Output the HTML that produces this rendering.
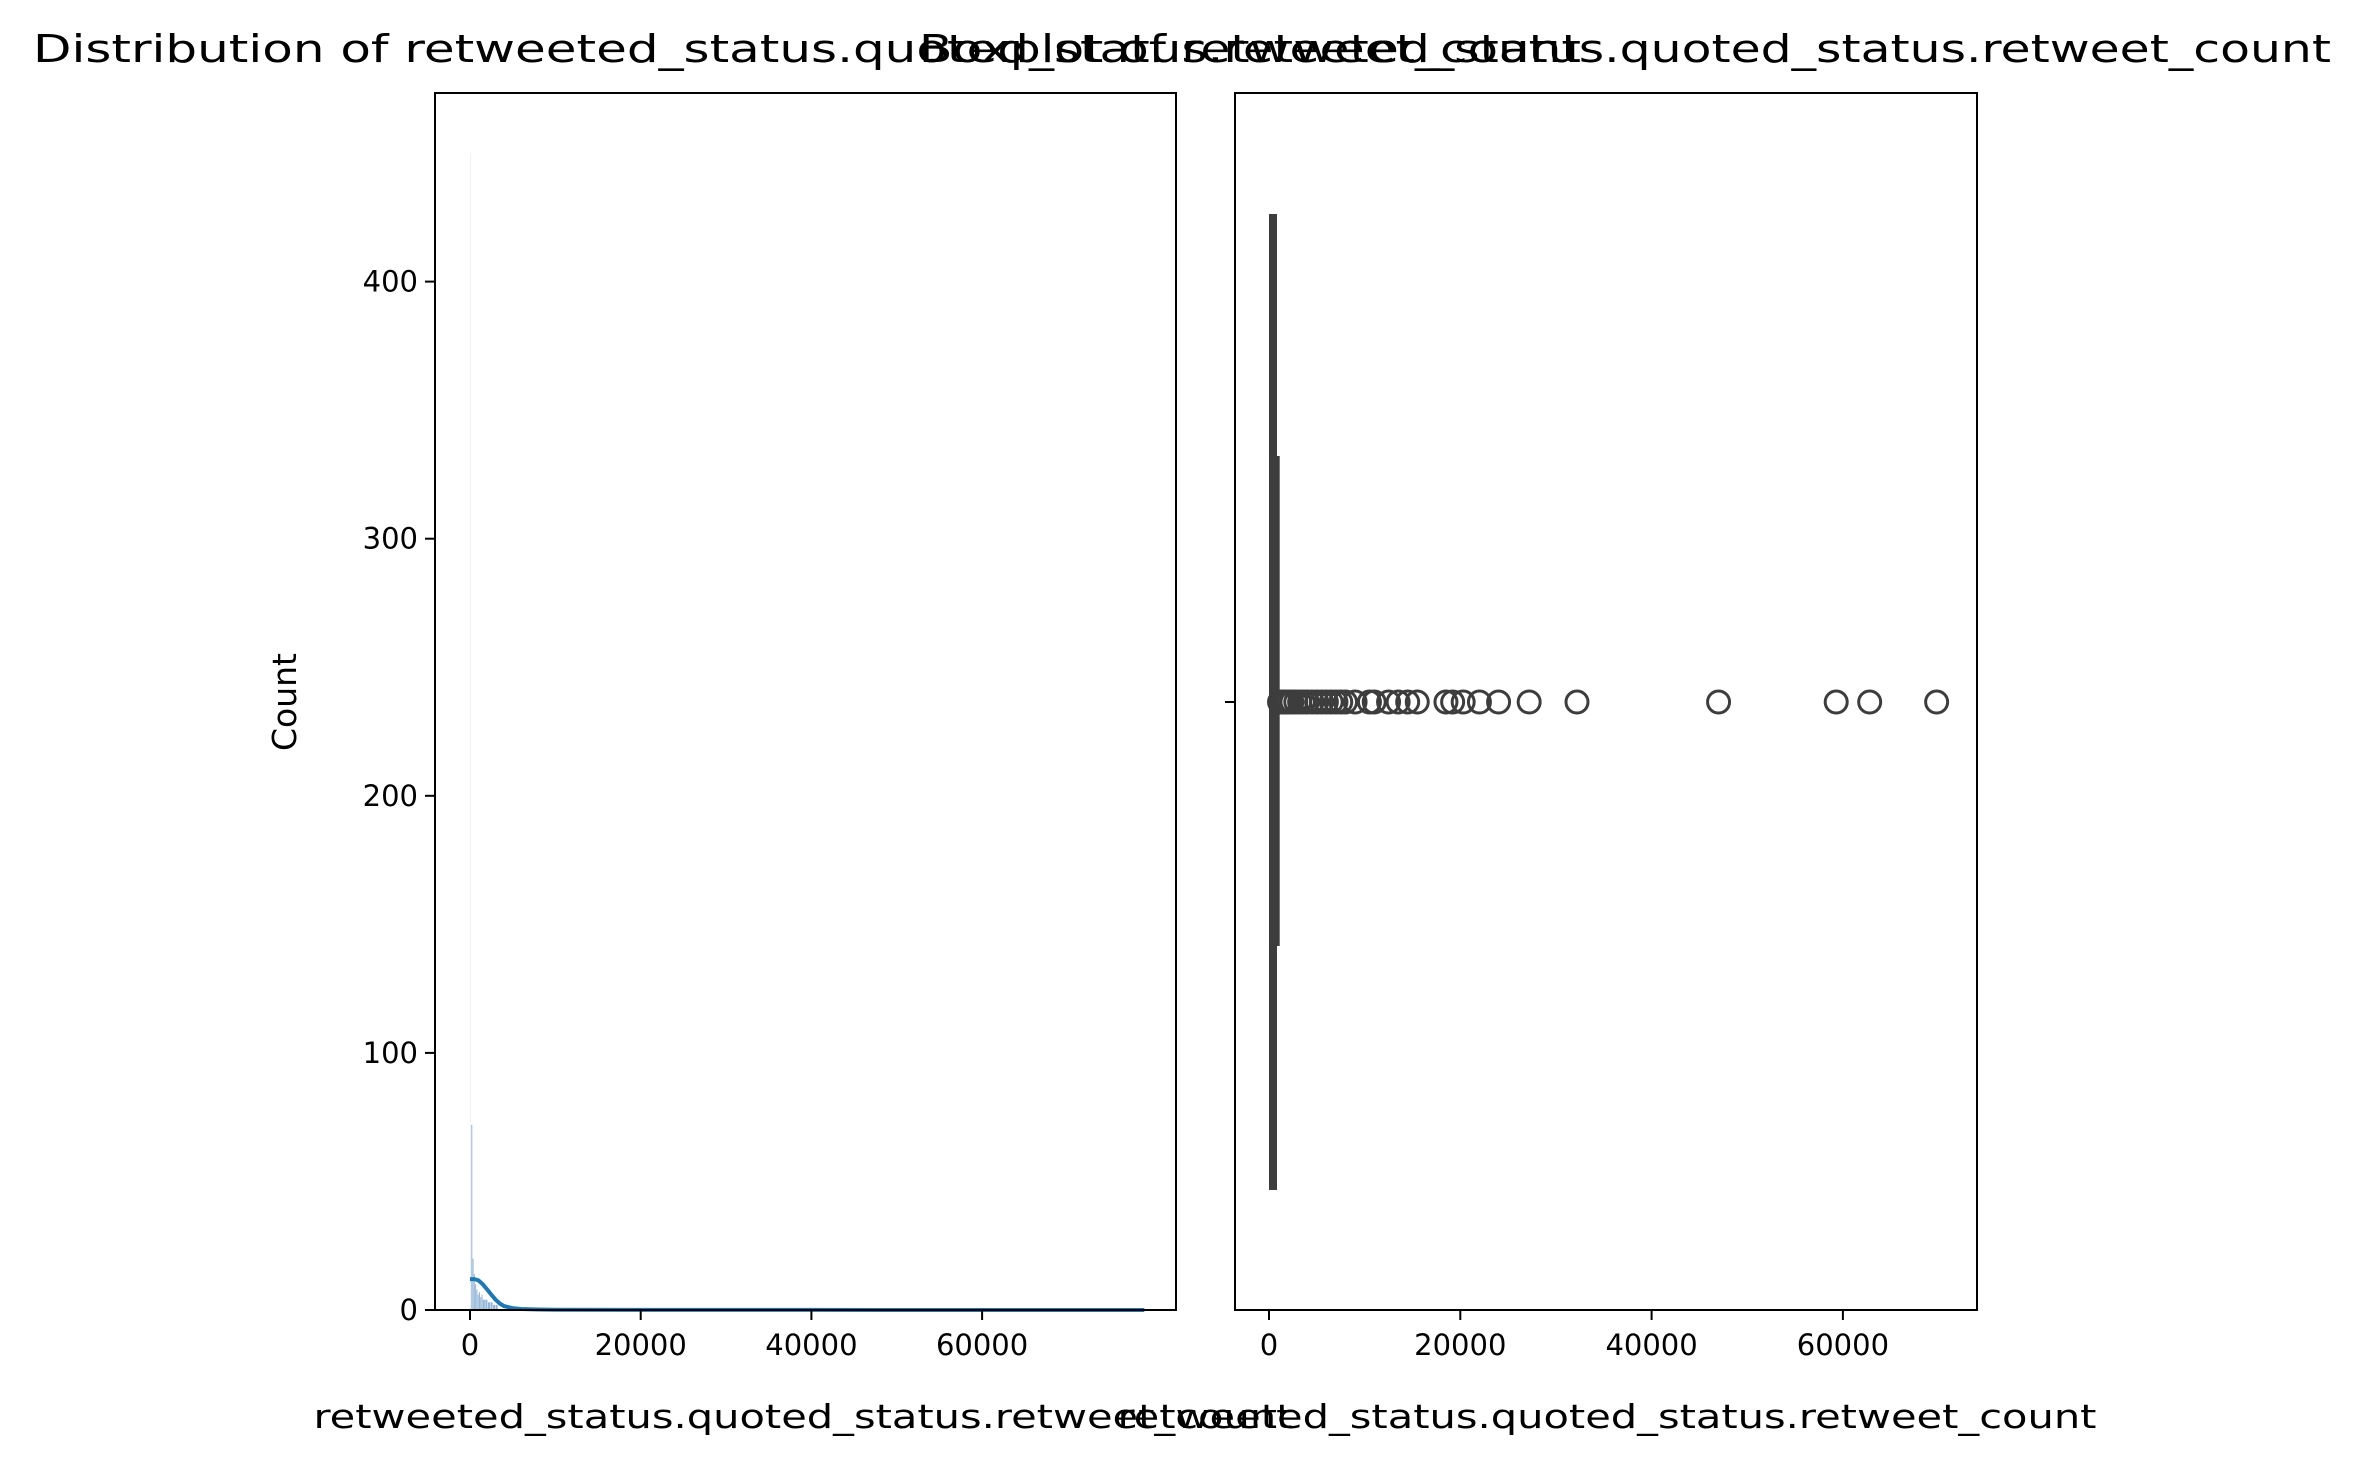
<!DOCTYPE html>
<html><head><meta charset="utf-8"><style>
html,body{margin:0;padding:0;background:#fff;}
svg{display:block;font-family:"DejaVu Sans","Liberation Sans",sans-serif;}
</style></head><body>
<svg id="fig" width="2360" height="1470" viewBox="0 0 2360 1470">
<rect x="0" y="0" width="2360" height="1470" fill="#fff"/>
<g id="left"></g>
<g id="right"></g>
</svg>
<script>
const histBins = [0, 150, 300, 450, 600, 750, 900, 1050, 1200, 1350, 1500, 1800, 2100, 2400, 2700, 3000];
const histCounts = [450, 72, 20, 14, 10, 8, 6, 7, 5, 6, 4, 4, 3, 3, 2, 2];
const kdeX = [0, 500, 1000, 1500, 2000, 2500, 3000, 3500, 4000, 5000, 6000, 8000, 10000, 20000, 40000, 60000, 70000, 79000];
const kdeY = [12, 12, 11.5, 10, 8, 6, 4, 2.5, 1.5, 0.7, 0.4, 0.2, 0.1, 0.05, 0.02, 0.01, 0.01, 0];
const histYTicks = [0, 100, 200, 300, 400];
const xTicks = [0, 20000, 40000, 60000];
const boxStats = {whiskerLo: 0, q1: 50, median: 200, q3: 700, whiskerHi: 1000};
const outliers = [1100, 1300, 1500, 1800, 2100, 2400, 2800, 3200, 3600, 4000, 4500, 5000, 5500, 6000, 6500, 7000, 7500, 8000, 9000, 10500, 11000, 12500, 13500, 14500, 15500, 18500, 19200, 20300, 22000, 24000, 27200, 32200, 47000, 59300, 62800, 69800];

const NS = "http://www.w3.org/2000/svg";
function mk(tag, attrs, parent) {
  const e = document.createElementNS(NS, tag);
  for (const k in attrs) e.setAttribute(k, attrs[k]);
  parent.appendChild(e);
  return e;
}
const L = document.getElementById('left');
const R = document.getElementById('right');

const lx0 = 435, lx1 = 1176, axTop = 93, axBot = 1310;
const hx = v => 470 + v / 20000 * 170.7;
const hy = v => axBot - v * 2.571;

for (let i = 0; i < histCounts.length; i++) {
  const a = histBins[i], b = (i + 1 < histBins.length) ? histBins[i + 1] : a + 300;
  const r = mk('rect', {x: hx(a), y: hy(histCounts[i]), width: Math.max(1, hx(b) - hx(a) - 0.5), height: axBot - hy(histCounts[i]), fill: i === 0 ? '#dfe9f3' : '#7fa8cf', 'fill-opacity': i === 0 ? 0.6 : 0.85}, L);
  
  
}
let d = '';
kdeX.forEach((v, i) => { d += (i ? 'L' : 'M') + hx(v).toFixed(1) + ',' + hy(kdeY[i]).toFixed(1); });
const kl = mk('path', {d: d, fill: 'none', stroke: '#1f77b4', 'stroke-width': 4}, L);



const lf = mk('rect', {x: lx0, y: axTop, width: lx1 - lx0, height: axBot - axTop, fill: 'none', stroke: '#000', 'stroke-width': 2}, L);



histYTicks.forEach(v => {
  mk('line', {x1: lx0 - 10, x2: lx0, y1: hy(v), y2: hy(v), stroke: '#000', 'stroke-width': 2}, L);
  const t = mk('text', {x: lx0 - 17, y: hy(v) + 10, 'font-size': 29, 'text-anchor': 'end'}, L);
  t.textContent = v;
  
  
});
xTicks.forEach(v => {
  mk('line', {x1: hx(v), x2: hx(v), y1: axBot, y2: axBot + 10, stroke: '#000', 'stroke-width': 2}, L);
  const t = mk('text', {x: hx(v), y: axBot + 45, 'font-size': 29, 'text-anchor': 'middle'}, L);
  t.textContent = v;
  
  
});
let tx = mk('text', {x: 807, y: 62, 'font-size': 38, 'text-anchor': 'middle', textLength: 1548, lengthAdjust: 'spacingAndGlyphs'}, L);
tx.textContent = 'Distribution of retweeted_status.quoted_status.retweet_count';


tx = mk('text', {x: 803, y: 1428, 'font-size': 33, 'text-anchor': 'middle', textLength: 979, lengthAdjust: 'spacingAndGlyphs'}, L);
tx.textContent = 'retweeted_status.quoted_status.retweet_count';


tx = mk('text', {x: 0, y: 0, 'font-size': 33, 'text-anchor': 'middle', transform: 'translate(296,702) rotate(-90)'}, L);
tx.textContent = 'Count';



const rx0 = 1235, rx1 = 1977;
const bx = v => 1269 + v / 20000 * 191.3;
const cy = 702;
const wl = mk('rect', {x: bx(boxStats.whiskerLo), y: 214, width: 8, height: 976, fill: '#3d3d3d'}, R);


const bxr = mk('rect', {x: bx(boxStats.q1), y: 456, width: Math.max(10, bx(boxStats.q3) - bx(boxStats.q1) + 4), height: 490, fill: '#3d3d3d'}, R);


outliers.forEach(v => {
  const c = mk('circle', {cx: bx(v), cy: cy, r: 11, fill: 'none', stroke: '#3d3d3d', 'stroke-width': 3}, R);
  
  
});
const rf = mk('rect', {x: rx0, y: axTop, width: rx1 - rx0, height: axBot - axTop, fill: 'none', stroke: '#000', 'stroke-width': 2}, R);


mk('line', {x1: rx0 - 10, x2: rx0, y1: cy, y2: cy, stroke: '#000', 'stroke-width': 2}, R);
xTicks.forEach(v => {
  mk('line', {x1: bx(v), x2: bx(v), y1: axBot, y2: axBot + 10, stroke: '#000', 'stroke-width': 2}, R);
  const tt = mk('text', {x: bx(v), y: axBot + 45, 'font-size': 29, 'text-anchor': 'middle'}, R);
  tt.textContent = v;
  
  
});
tx = mk('text', {x: 1625, y: 62, 'font-size': 38, 'text-anchor': 'middle', textLength: 1412, lengthAdjust: 'spacingAndGlyphs'}, R);
tx.textContent = 'Boxplot of retweeted_status.quoted_status.retweet_count';


tx = mk('text', {x: 1607, y: 1428, 'font-size': 33, 'text-anchor': 'middle', textLength: 979, lengthAdjust: 'spacingAndGlyphs'}, R);
tx.textContent = 'retweeted_status.quoted_status.retweet_count';


</script>
</body></html>
